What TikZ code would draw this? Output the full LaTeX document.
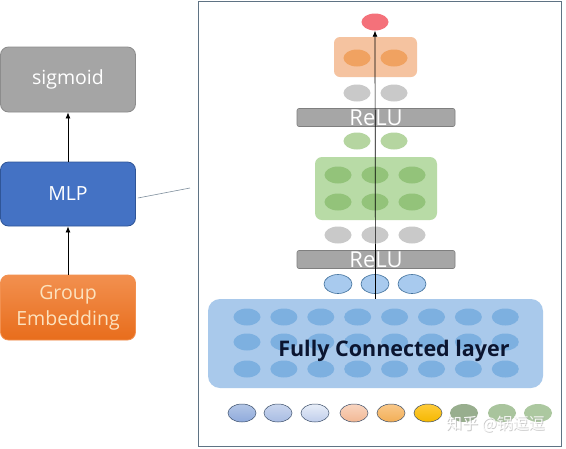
\documentclass[tikz,border=0pt]{standalone}
\usepackage{fontspec}
\setmainfont{Open Sans}
\newfontfamily\cjk{Noto Sans CJK SC}
\usetikzlibrary{shapes.geometric,arrows.meta}
\definecolor{sigfill}{HTML}{A5A5A5}
\definecolor{sigline}{HTML}{8C8C8C}
\definecolor{mlpfill}{HTML}{4472C4}
\definecolor{mlpline}{HTML}{2F5597}
\definecolor{grptop}{HTML}{F2904F}
\definecolor{grpbot}{HTML}{E86D1C}
\definecolor{grptext}{HTML}{FCE2BE}
\definecolor{frame}{HTML}{5F7384}
\definecolor{redout}{HTML}{F4717A}
\definecolor{orbox}{HTML}{F5C3A0}
\definecolor{ornode}{HTML}{F0A261}
\definecolor{grayn}{HTML}{C9C9C9}
\definecolor{relufill}{HTML}{A6A6A6}
\definecolor{reluline}{HTML}{7F7F7F}
\definecolor{grsmall}{HTML}{B5D5A0}
\definecolor{grbox}{HTML}{B8DBA6}
\definecolor{grnode}{HTML}{93C37A}
\definecolor{bluen}{HTML}{A8CAEE}
\definecolor{blueline}{HTML}{41719C}
\definecolor{fcbox}{HTML}{A9C9EB}
\definecolor{fcnode}{HTML}{7DB0E0}
\definecolor{fctext}{HTML}{0B1530}
\definecolor{ballline}{HTML}{3C4F6A}
\definecolor{bat}{HTML}{B3C6E6}\definecolor{bab}{HTML}{8FAADC}
\definecolor{bbt}{HTML}{CAD6EE}\definecolor{bbb}{HTML}{A8BCE3}
\definecolor{bct}{HTML}{E8EEF8}\definecolor{bcb}{HTML}{BFCDEB}
\definecolor{bdt}{HTML}{F9D5C0}\definecolor{bdb}{HTML}{F2B894}
\definecolor{bet}{HTML}{F9C88A}\definecolor{beb}{HTML}{F2AE55}
\definecolor{bft}{HTML}{FFCB3A}\definecolor{bfb}{HTML}{F5B800}
\definecolor{gg1}{HTML}{98AE8E}
\definecolor{gg2}{HTML}{A9C49D}
\definecolor{gg3}{HTML}{ACC8A0}
\tikzset{
  lbox/.style={rounded corners=8pt, minimum width=135pt, minimum height=64pt,
    text=white, font=\fontsize{19.5}{22}\selectfont, line width=0.8pt, align=center},
  nd/.style={ellipse, minimum width=27pt, minimum height=17pt, inner sep=0pt},
  relubar/.style={fill=relufill, draw=reluline, line width=0.6pt, rounded corners=2pt,
    minimum width=158pt, minimum height=18pt, inner sep=0pt, text=white,
    font=\fontsize{22}{22}\selectfont},
  ball/.style={ellipse, minimum width=28pt, minimum height=18pt, inner sep=0pt,
    draw=ballline, line width=0.5pt},
  gball/.style={ellipse, minimum width=28pt, minimum height=18pt, inner sep=0pt}
}
\begin{document}
\begin{tikzpicture}[x=1pt,y=-1pt]
\useasboundingbox (0,0) rectangle (566,448);
\fill[white] (0,0) rectangle (566,448);
% left column
\node[lbox, fill=sigfill, draw=sigline, minimum height=65pt] (sig) at (68,79.5) {\raisebox{-1pt}{sigmoid}};
\node[lbox, fill=mlpfill, draw=mlpline] (mlp) at (68,194) {MLP};
\node[lbox, top color=grptop, bottom color=grpbot, draw=grptop, minimum height=65pt,
  text=grptext, font=\fontsize{19.5}{26}\selectfont] (grp) at (68,307.5) {\raisebox{-3pt}{Group}\\\raisebox{-3pt}{Embedding}};
\draw[-{Latex[length=6pt,width=5pt]}, line width=0.8pt] (mlp.north) -- (sig.south);
\draw[-{Latex[length=6pt,width=5pt]}, line width=0.8pt] (grp.north) -- (mlp.south);
\coordinate (zoomend) at (190,188);
\draw[frame!80, line width=0.6pt] ([xshift=2pt,yshift=-4pt]mlp.east) -- (zoomend);
% right panel
\node[draw=frame, line width=1pt, minimum width=363pt, minimum height=445pt, inner sep=0pt] (panel) at (379.5,223.5) {};
% output
\node[nd, fill=redout] (out) at (375,22) {};
\node[fill=orbox, rounded corners=6pt, minimum width=83pt, minimum height=40pt, inner sep=0pt] (obox) at (375.5,57) {};
\node[nd, fill=ornode] (o1) at (357,58) {};
\node[nd, fill=ornode] (o2) at (394,58) {};
\node[nd, fill=grayn] (g1) at (357,93) {};
\node[nd, fill=grayn] (g2) at (394,93) {};
\node[relubar] (relu1) at (376,117.5) {ReLU};
\node[nd, fill=grsmall] (s1) at (357,141) {};
\node[nd, fill=grsmall] (s2) at (394,141) {};
\node[fill=grbox, rounded corners=7pt, minimum width=122pt, minimum height=63pt, inner sep=0pt] (gbox) at (376,188.5) {};
\foreach \i/\x in {1/338,2/375,3/412}{
  \node[nd, fill=grnode] (ga\i) at (\x,175) {};
  \node[nd, fill=grnode] (gb\i) at (\x,202) {};
  \node[nd, fill=grayn] (h\i) at (\x,235) {};
  \node[nd, fill=bluen, draw=blueline, line width=0.6pt, minimum width=28pt, minimum height=19pt] (b\i) at (\x,284) {};
}
\node[relubar] (relu2) at (376,259.5) {ReLU};
% fully connected layer
\node[fill=fcbox, rounded corners=12pt, minimum width=335pt, minimum height=89pt, inner sep=0pt] (fc) at (375.5,343.5) {};
\foreach \c in {0,...,7}{
  \foreach \r/\y in {1/317,2/342,3/369}{
    \node[nd, fill=fcnode] (f\c\r) at ({247+\c*36.9},\y) {};
  }
}
\node[text=fctext, font=\bfseries\fontsize{21.5}{22}\selectfont] (fctxt) at (394,351) {Fully Connected layer};
% central arrow
\draw[-{Latex[length=6pt,width=5pt]}, line width=0.7pt] (fc.north) -- (out.south);
% bottom inputs
\node[ball, top color=bat, bottom color=bab] (i1) at (242,413) {};
\node[ball, top color=bbt, bottom color=bbb] (i2) at (278,413) {};
\node[ball, top color=bct, bottom color=bcb] (i3) at (315,413) {};
\node[ball, top color=bdt, bottom color=bdb] (i4) at (354,413) {};
\node[ball, top color=bet, bottom color=beb] (i5) at (391,413) {};
\node[ball, top color=bft, bottom color=bfb] (i6) at (428,413) {};
\node[gball, fill=gg1] (i7) at (464,413) {};
\node[gball, fill=gg2] (i8) at (502,413) {};
\node[gball, fill=gg3] (i9) at (538,413) {};
% watermark
\node[text=gray!70, opacity=0.6, font=\cjk\fontsize{16}{16}\selectfont, anchor=west, inner sep=0pt] (wm2) at (446.8,424.8) {知乎 @锅逗逗};
\node[text=white, opacity=0.9, font=\cjk\fontsize{16}{16}\selectfont, anchor=west, inner sep=0pt] (wm) at (446,424) {知乎 @锅逗逗};
\end{tikzpicture}
\end{document}
